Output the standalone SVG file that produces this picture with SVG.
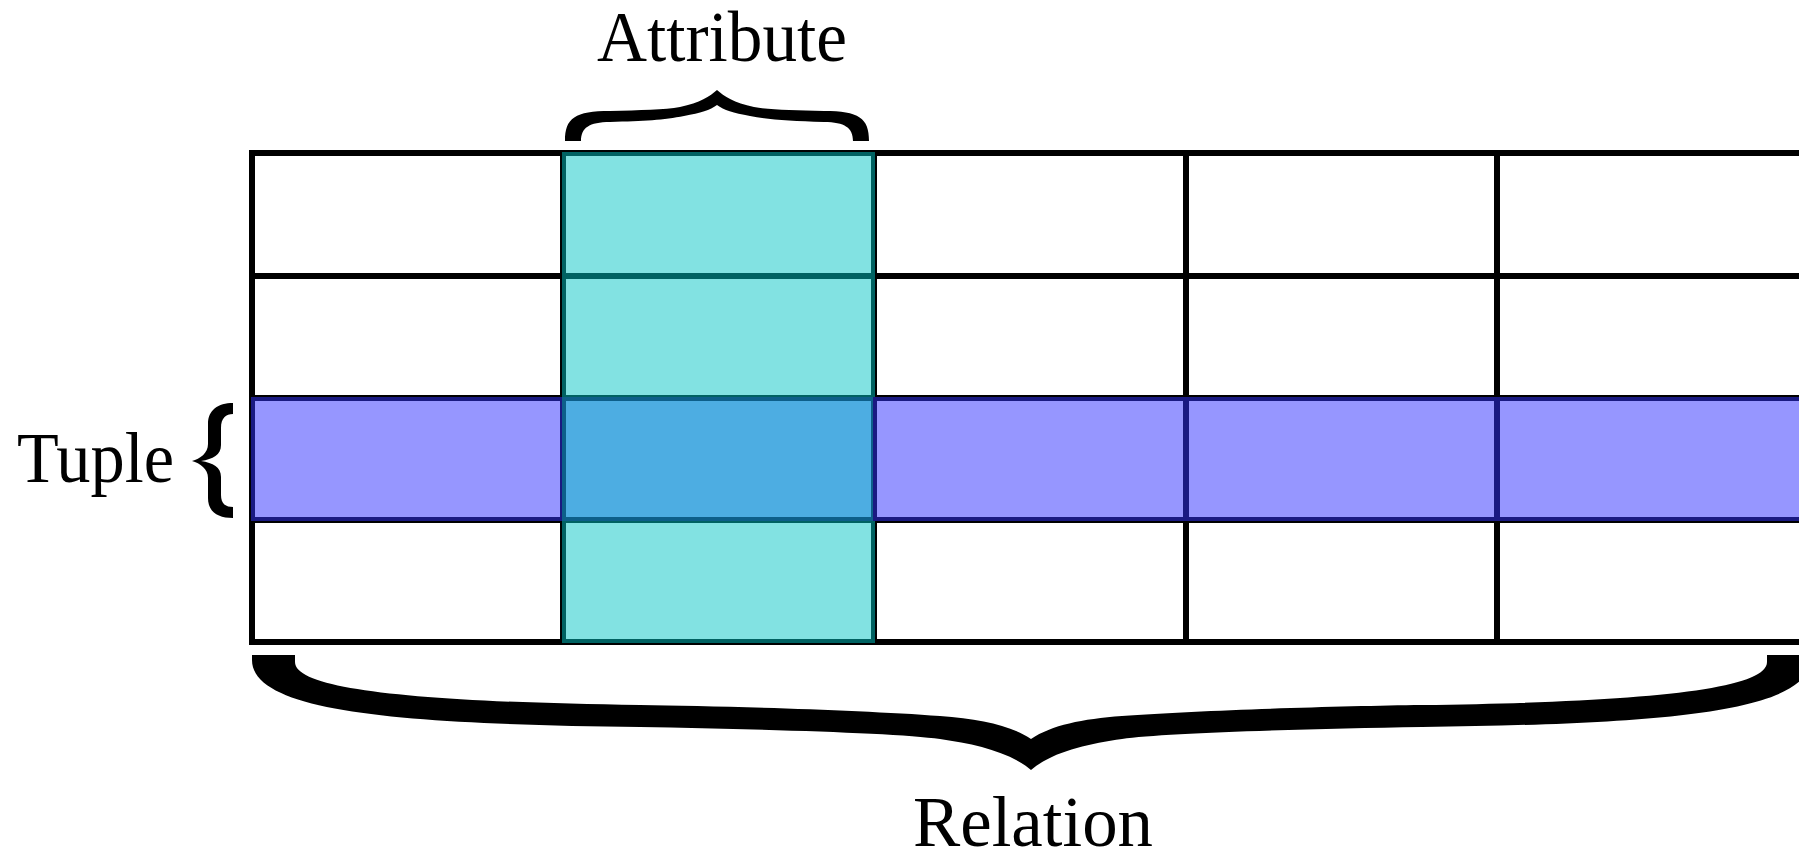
<svg xmlns="http://www.w3.org/2000/svg" width="1799" height="853" viewBox="0 0 1799 853">
<style>
.cell{fill:#ffffff;stroke:#000000;stroke-width:6}
.attr{fill:#82E2E2;stroke:#006262;stroke-width:4}
.tup{fill:#9696FF;stroke:#1A1A82;stroke-width:4}
.both{fill:#4DADE2;stroke:#0D5F8A;stroke-width:4}
.brace{fill:#000000;stroke:none}
.lbl{font-family:"Liberation Serif","Times New Roman",serif;font-size:72px;fill:#000000}
</style>
<rect x="0" y="0" width="1799" height="853" fill="#ffffff"/>
<g id="grid">
<rect class="cell" x="252" y="153" width="311" height="123"/>
<rect class="cell" x="563" y="153" width="311" height="123"/>
<rect class="cell" x="874" y="153" width="312" height="123"/>
<rect class="cell" x="1186" y="153" width="311" height="123"/>
<rect class="cell" x="1497" y="153" width="311" height="123"/>
<rect class="cell" x="252" y="276" width="311" height="122"/>
<rect class="cell" x="563" y="276" width="311" height="122"/>
<rect class="cell" x="874" y="276" width="312" height="122"/>
<rect class="cell" x="1186" y="276" width="311" height="122"/>
<rect class="cell" x="1497" y="276" width="311" height="122"/>
<rect class="cell" x="252" y="398" width="311" height="122"/>
<rect class="cell" x="563" y="398" width="311" height="122"/>
<rect class="cell" x="874" y="398" width="312" height="122"/>
<rect class="cell" x="1186" y="398" width="311" height="122"/>
<rect class="cell" x="1497" y="398" width="311" height="122"/>
<rect class="cell" x="252" y="520" width="311" height="122"/>
<rect class="cell" x="563" y="520" width="311" height="122"/>
<rect class="cell" x="874" y="520" width="312" height="122"/>
<rect class="cell" x="1186" y="520" width="311" height="122"/>
<rect class="cell" x="1497" y="520" width="311" height="122"/>
</g>
<g id="attribute-column">
<rect class="attr" x="564" y="154" width="309" height="121"/>
<rect class="attr" x="564" y="277" width="309" height="120"/>
<rect class="attr" x="564" y="521" width="309" height="120"/>
</g>
<g id="tuple-row">
<rect class="tup" x="253" y="399" width="309" height="120"/>
<rect class="both" x="564" y="399" width="309" height="120"/>
<rect class="tup" x="875" y="399" width="310" height="120"/>
<rect class="tup" x="1187" y="399" width="309" height="120"/>
<rect class="tup" x="1498" y="399" width="309" height="120"/>
</g>
<g id="attribute">
<path class="brace" d="M565,141 C565,118 575,111 610,111 C640,110 665,110 680,107 C700,103 710,96 717,90 C724,96 734,103 754,107 C769,110 794,110 824,111 C859,111 869,118 869,141 L853,141 C853,128 845,122 824,122 C790,121 770,120 750,116 C733,113 724,110 717,105 C710,110 701,113 684,116 C664,120 644,121 610,122 C589,122 581,128 581,141 Z"/>
<text class="lbl" x="597" y="61" textLength="250" lengthAdjust="spacingAndGlyphs">Attribute</text>
</g>
<g id="tuple">
<path class="brace" d="M233,403 L233,414 C226,414 221,418 221,428 L221,445 C221,455 213,459 201,461 C213,463 221,467 221,477 L221,495 C221,504 226,507 233,507 L233,518 C218,518 208,512 208,498 L208,478 C208,469 200,463 192,461 C200,459 208,453 208,444 L208,424 C208,410 218,403 233,403 Z"/>
<text class="lbl" x="17" y="482" textLength="157" lengthAdjust="spacingAndGlyphs">Tuple</text>
</g>
<g id="relation">
<path class="brace" d="M252,655 L252,660 C252,715 420,724 640,727 C760,729 900,733 940,739 C975,744 1010,752 1031,770 C1052,752 1087,744 1122,739 C1162,733 1302,729 1422,727 C1642,724 1810,715 1810,660 L1810,655 L1767,655 L1767,662 C1767,690 1642,702 1422,705 C1342,706 1202,710 1122,716 C1082,719 1052,725 1031,739 C1010,725 980,719 940,716 C860,710 720,706 640,705 C420,702 295,690 295,662 L295,655 Z"/>
<text class="lbl" x="913" y="846" textLength="240" lengthAdjust="spacingAndGlyphs">Relation</text>
</g>
</svg>
